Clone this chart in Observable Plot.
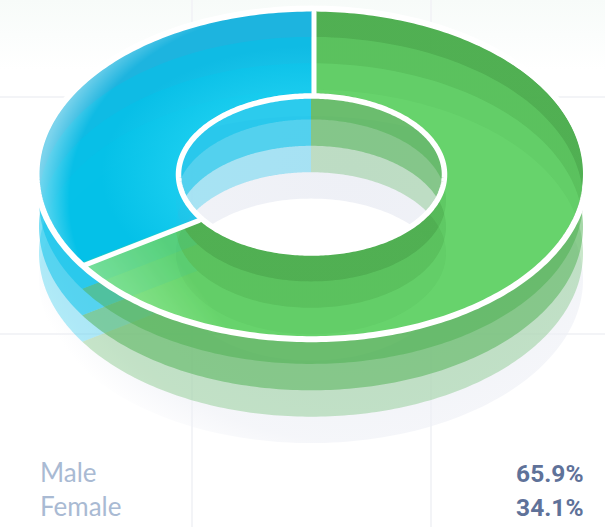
<!DOCTYPE html>
<html><head><meta charset="utf-8">
<script src="https://cdn.jsdelivr.net/npm/d3@7"></script>
<script src="https://cdn.jsdelivr.net/npm/@observablehq/plot@0.6"></script>
<style>html,body{margin:0;padding:0;background:#fff;overflow:hidden}</style>
</head><body><div id="chart"></div>
<script>
const labels = ["Male", "Female"];
const shares = [65.9, 34.1];
const valueLabels = ["65.9%", "34.1%"];
const sliceColors = ["#4cb050", "#00bfea"];
const overlayColors = ["#7cf081", "#00c6ec"];
const baseColors = ["url(#greenBase)", "#18b2de"];
const layerAlphas = [0.5, 0.5, 0.3];
const gridX = [191.5, 430.5];
const gridY = [96.5, 333.5];

const W = 605, H = 527, cx = 311, cy = 174;
const R = {ox: 272, oy: 163.5, ix: 135, iy: 81};
const step = 26.4;
const cut = shares[0] / 100;

const at = (f, rx, ry, dy = 0) => ({
  x: cx + rx * Math.sin(2 * Math.PI * f),
  y: cy + dy - ry * Math.cos(2 * Math.PI * f)
});
const sector = (f0, f1, dy = 0) => d3.range(241).map(i => {
  const f = f0 + (f1 - f0) * i / 240;
  const a = at(f, R.ox, R.oy, dy), b = at(f, R.ix, R.iy, dy);
  return {x1: a.x, y1: a.y, x2: b.x, y2: b.y};
});
const ellipse = (rx, ry, dy = 0) => d3.range(361).map(i => at(i / 360, rx, ry, dy));
const spans = [[0, cut], [cut, 1]];
const faceSpans = [[0, cut], [cut - 0.004, 1.002]];

const defs = (_, {x, y}) => {
  const ns = "http://www.w3.org/2000/svg";
  const d = document.createElementNS(ns, "defs");
  const outline = s => {
    const pts = sector(s[0], s[1]);
    return "M" + pts.map(p => `${x(p.x1)},${y(p.y1)}`).join("L") + "L" + pts.reverse().map(p => `${x(p.x2)},${y(p.y2)}`).join("L") + "Z";
  };
  d.innerHTML = `
  <clipPath id="clip0"><path d="${outline(faceSpans[0])}"/></clipPath>
  <clipPath id="clip1"><path d="${outline(faceSpans[1])}"/></clipPath>
  <radialGradient id="shadow" gradientUnits="userSpaceOnUse" cx="0" cy="0" r="1" gradientTransform="translate(350 170) scale(345 315)">
    <stop offset="0" stop-color="#eef0f6"/><stop offset=".55" stop-color="#eef0f6" stop-opacity=".85"/>
    <stop offset=".86" stop-color="#eef0f6" stop-opacity=".6"/><stop offset="1" stop-color="#eef0f6" stop-opacity="0"/>
  </radialGradient>
  <linearGradient id="greenBase" gradientUnits="userSpaceOnUse" x1="85" y1="290" x2="160" y2="235">
    <stop offset="0" stop-color="#b9e4bb"/><stop offset="1" stop-color="#4bad4d"/>
  </linearGradient>
  <radialGradient id="blueEdge" gradientUnits="userSpaceOnUse" cx="0" cy="0" r="1" gradientTransform="translate(300 200) scale(262 215)">
    <stop offset=".88" stop-color="#fff" stop-opacity="0"/><stop offset="1" stop-color="#fff" stop-opacity=".42"/>
  </radialGradient>
  <radialGradient id="blueHole" gradientUnits="userSpaceOnUse" cx="0" cy="0" r="1" gradientTransform="translate(311 174) scale(210 128)">
    <stop offset=".63" stop-color="#35dcf7" stop-opacity=".42"/><stop offset="1" stop-color="#35dcf7" stop-opacity="0"/>
  </radialGradient>`;
  return d;
};
const clippedTo = s => ({render(i, sc, v, d, c, next) {
  const g = next(i, sc, v, d, c);
  g.setAttribute("clip-path", `url(#clip${s})`);
  return g;
}});
const band = (data, options) => Plot.area(data, {x1: "x1", y1: "y1", x2: "x2", y2: "y2", curve: "linear", ...options});

const marks = [defs];
// grid
marks.push(Plot.ruleX(gridX, {stroke: "#f3f4f7", strokeWidth: 2}));
marks.push(Plot.ruleY(gridY, {stroke: "#f3f4f7", strokeWidth: 2}));
// shadow and translucent stacked layers, lowest first
marks.push(band(sector(0, 1, step * 4), {fill: "url(#shadow)"}));
[2, 1, 0].forEach(l => spans.forEach(([a, b], s) =>
  marks.push(band(sector(a, b, step * (l + 1)), {fill: sliceColors[s], fillOpacity: layerAlphas[l]}))
));
// top face
marks.push(band(sector(...faceSpans[0]), {fill: baseColors[0], fillOpacity: 0.97}));
marks.push(band(sector(...faceSpans[1]), {fill: baseColors[1], fillOpacity: 0.98}));
// lighter shifted rings seen on the top face, one clip per slice
[[1, .3], [2, .3], [3, .18]].forEach(([k, o]) => {
  marks.push(band(sector(0, 1, step * k), {fill: overlayColors[0], fillOpacity: o, ...clippedTo(0)}));
  marks.push(band(sector(0, 1, step * k), {fill: overlayColors[1], fillOpacity: o + .12, ...clippedTo(1)}));
});
// faint blue of the slice beneath, showing through the green face
[1, 2].forEach(k => marks.push(band(sector(cut, 1, step * k), {fill: "#21c4c8", fillOpacity: .1, ...clippedTo(0)})));
marks.push(band(sector(...faceSpans[1]), {fill: "url(#blueHole)"}));
marks.push(band(sector(...faceSpans[1]), {fill: "url(#blueEdge)"}));
// white outlines and separators
marks.push(Plot.line(ellipse(275, 165.3, -0.6), {x: "x", y: "y", stroke: "#fff", strokeWidth: 6}));
marks.push(Plot.line(ellipse(133, 78.5), {x: "x", y: "y", stroke: "#fff", strokeWidth: 5.5}));
const sep = (f, ox, oy) => [at(f, 270, 162), at(f, 133, 79)].map(p => ({x: p.x + ox, y: p.y + oy}));
marks.push(Plot.line(sep(0, 2.5, 0), {x: "x", y: "y", stroke: "#fff", strokeWidth: 5}));
marks.push(Plot.line(sep(cut, -1, 3.4), {x: "x", y: "y", stroke: "#fff", strokeWidth: 5}));
// legend
const rows = labels.map((l, i) => ({label: l, value: valueLabels[i], y: [481, 515][i]}));
marks.push(Plot.text(rows, {x: () => 39.5, y: "y", text: "label", textAnchor: "start", lineAnchor: "bottom", fontFamily: "Lato", fontSize: 26, fontWeight: 400, fill: "#a9bad3", style: {letterSpacing: "1.4px"}}));
marks.push(Plot.text(rows, {x: () => 583, y: "y", text: "value", textAnchor: "end", lineAnchor: "bottom", fontFamily: "Roboto", fontSize: 24.5, fontWeight: 700, fill: "#5f7299"}));

const chart = Plot.plot({
  width: W, height: H, margin: 0,
  x: {domain: [0, W], range: [0, W], axis: null},
  y: {domain: [0, H], range: [0, H], axis: null},
  style: {background: "linear-gradient(#f7fbf9, #fff 70px)"},
  marks
});
document.getElementById("chart").append(chart);
</script></body></html>
